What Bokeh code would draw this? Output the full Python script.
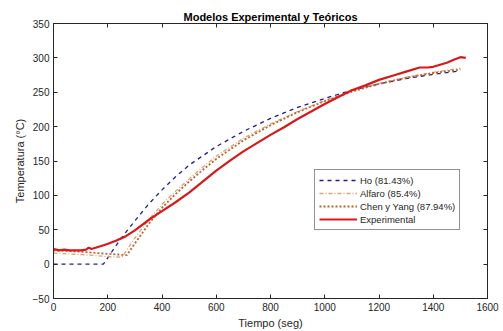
from bokeh.plotting import figure
from bokeh.models import LinearAxis, Range1d, FixedTicker, Legend, LegendItem, CustomJSTickFormatter
from bokeh.embed import file_html
from bokeh.resources import INLINE

# --- data ---
ho_t = [0, 50, 100, 150, 184, 250, 300, 350, 400, 450, 500, 600, 700, 800, 900, 1000, 1100, 1200, 1300, 1400, 1500]
ho_T = [0, 0, 0, 0, 0, 38, 63, 87, 108, 127, 144, 171, 193, 212, 228, 241, 253, 262, 270, 276, 281]

alf_t = [0, 100, 200, 252, 300, 350, 400, 450, 500, 550, 600, 700, 800, 900, 1000, 1100, 1200, 1300, 1400, 1500]
alf_T = [16, 14, 11, 10, 38, 64, 87, 106, 124, 141, 157, 183, 204, 222, 238, 252, 263, 272, 279, 285]

chen_t = [0, 100, 200, 270, 300, 350, 400, 450, 500, 550, 600, 700, 800, 900, 1000, 1100, 1200, 1300, 1400, 1500]
chen_T = [20, 18, 15, 13, 30, 58, 82, 102, 120, 137, 153, 180, 202, 221, 237, 251, 262, 271, 278, 283]

exp_t = [0, 10, 20, 40, 60, 80, 100, 120, 130, 140, 173, 196, 230, 264, 300, 357, 400, 450, 500, 541, 600,
         652, 700, 750, 800, 850, 900, 950, 1000, 1050, 1100, 1150, 1200, 1250, 1300, 1350, 1380, 1400,
         1450, 1480, 1500, 1520]
exp_T = [22, 21, 20, 21, 20, 20, 20, 21, 24, 22, 26, 29, 34, 40, 49, 66, 77, 90, 104, 117, 136,
         151, 164, 176, 188, 199, 211, 222, 233, 243, 253, 260, 268, 274, 280, 286, 286, 287,
         293, 298, 301, 300]

x_ticks = [0, 200, 400, 600, 800, 1000, 1200, 1400, 1600]
y_ticks = [-50, 0, 50, 100, 150, 200, 250, 300, 350]

FONT = "Liberation Sans"
TXT = "#262626"

p = figure(width=503, height=331, output_backend="svg", toolbar_location=None,
           x_range=Range1d(0, 1600), y_range=Range1d(-50, 350),
           min_border_left=53, min_border_right=16, min_border_top=23, min_border_bottom=33,
           background_fill_color="white", border_fill_color="white")

p.title.text = "Modelos Experimental y Teóricos"
p.title.align = "center"
p.title.text_font = FONT
p.title.text_font_size = "11px"
p.title.text_font_style = "bold"
p.title.text_color = "black"
p.title.standoff = 2

p.xgrid.visible = False
p.ygrid.visible = False
p.outline_line_color = TXT
p.outline_line_width = 1

for ax in (p.xaxis[0], p.yaxis[0]):
    ax.major_label_text_font = FONT
    ax.major_label_text_font_size = "10px"
    ax.major_label_text_color = TXT
    ax.axis_label_text_font = FONT
    ax.axis_label_text_font_size = "11px"
    ax.axis_label_text_font_style = "normal"
    ax.axis_label_text_color = TXT
    ax.axis_line_color = TXT
    ax.major_tick_line_color = TXT
    ax.major_tick_in = 4
    ax.major_tick_out = 0
    ax.minor_tick_line_color = None
    ax.major_label_standoff = 4

p.xaxis[0].ticker = FixedTicker(ticks=x_ticks)
p.yaxis[0].ticker = FixedTicker(ticks=y_ticks)
p.xaxis[0].axis_label = "Tiempo (seg)"
p.yaxis[0].axis_label = "Temperatura (°C)"
p.xaxis[0].axis_label_standoff = 3
p.yaxis[0].axis_label_standoff = 4

blank = CustomJSTickFormatter(code="return '';")
top = LinearAxis(ticker=FixedTicker(ticks=x_ticks), formatter=blank,
                 major_tick_in=4, major_tick_out=0, minor_tick_line_color=None,
                 axis_line_color=TXT, major_tick_line_color=TXT, major_label_standoff=0)
right = LinearAxis(ticker=FixedTicker(ticks=y_ticks), formatter=blank,
                   major_tick_in=4, major_tick_out=0, minor_tick_line_color=None,
                   axis_line_color=TXT, major_tick_line_color=TXT, major_label_standoff=0)
p.add_layout(top, "above")
p.add_layout(right, "right")

r_ho = p.line(ho_t, ho_T, line_color="#1f1f8a", line_width=1.3, line_dash="4 4")
r_alf = p.line(alf_t, alf_T, line_color="#d9a37c", line_width=1.3, line_dash="4 2 1 2")
r_chen = p.line(chen_t, chen_T, line_color="#c0622e", line_width=1.8, line_dash="2 2")
r_exp = p.line(exp_t, exp_T, line_color="#d7191c", line_width=2.2)

legend = Legend(items=[
    LegendItem(label="Ho (81.43%)", renderers=[r_ho]),
    LegendItem(label="Alfaro (85.4%)", renderers=[r_alf]),
    LegendItem(label="Chen y Yang (87.94%)", renderers=[r_chen]),
    LegendItem(label="Experimental", renderers=[r_exp]),
], location=(261, 68))
legend.label_text_font = FONT
legend.label_text_font_size = "9.5px"
legend.label_text_color = TXT
legend.border_line_color = TXT
legend.border_line_width = 1
legend.background_fill_alpha = 1
legend.glyph_width = 38
legend.glyph_height = 12
legend.label_height = 12
legend.spacing = 1
legend.padding = 4
legend.margin = 0
legend.label_standoff = 3
p.add_layout(legend, "center")

open("out.html", "w").write(file_html(p, INLINE))
